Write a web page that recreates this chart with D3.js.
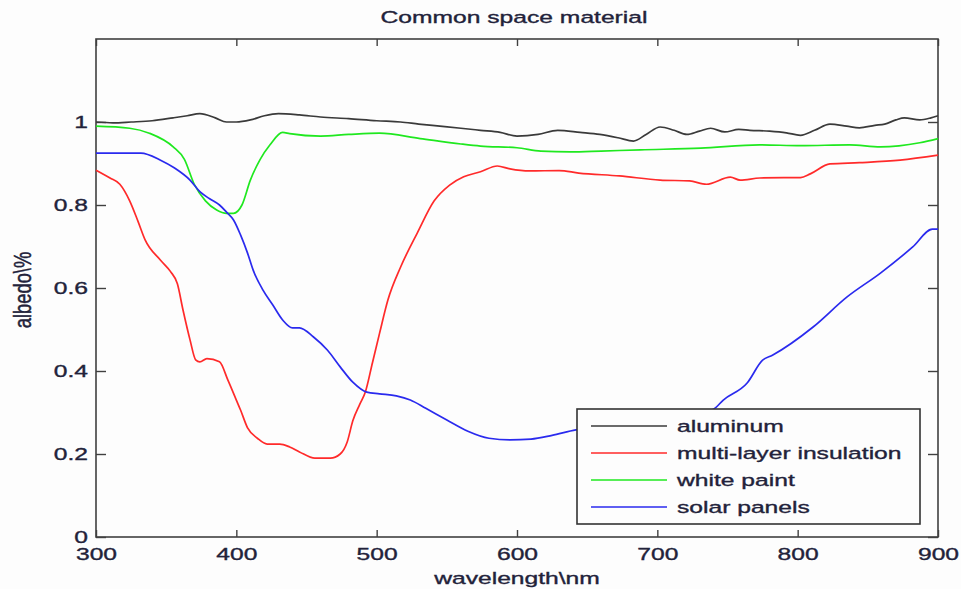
<!DOCTYPE html>
<html>
<head>
<meta charset="utf-8">
<script src="https://cdn.jsdelivr.net/npm/d3@7"></script>
<style>
  body { margin: 0; background: #fdfdfd; }
  text { font-family: "Liberation Sans", Arial, sans-serif; fill: #22223a; stroke: #22223a; stroke-width: 0.35px; }
</style>
</head>
<body>
<svg id="chart" width="961" height="589"></svg>
<script>
// readings from the picture: [wavelength nm, albedo]
var aluminum = [
  [300, 1.0], [312, 0.998], [325, 1.0], [340, 1.003], [355, 1.01], [365, 1.015], [374, 1.02],
  [385, 1.01], [393, 1.0], [400, 1.0], [410, 1.005], [420, 1.015], [430, 1.02], [445, 1.017],
  [460, 1.012], [480, 1.008], [500, 1.003], [517, 1.0], [530, 0.995], [545, 0.99], [560, 0.985],
  [574, 0.98], [588, 0.975], [600, 0.966], [615, 0.97], [629, 0.98], [645, 0.975], [659, 0.97],
  [672, 0.962], [683, 0.954], [692, 0.97], [702, 0.988], [712, 0.98], [721, 0.97], [730, 0.978],
  [738, 0.985], [748, 0.976], [758, 0.982], [766, 0.98], [780, 0.978], [792, 0.974], [802, 0.968],
  [812, 0.98], [823, 0.995], [835, 0.99], [844, 0.986], [855, 0.992], [862, 0.995], [870, 1.005],
  [876, 1.01], [887, 1.005], [895, 1.01], [900, 1.015]
];

var multiLayer = [
  [300, 0.884], [310, 0.865], [317, 0.85], [324, 0.81], [330, 0.76], [335, 0.716], [346, 0.667],
  [353, 0.64], [358, 0.61], [362, 0.547], [367, 0.475], [371, 0.427], [374, 0.422], [379, 0.43],
  [388, 0.422], [394, 0.378], [400, 0.33], [403, 0.306], [408, 0.263], [415, 0.238], [422, 0.224],
  [431, 0.224], [438, 0.217], [445, 0.205], [456, 0.19], [467, 0.19], [474, 0.2], [479, 0.229],
  [483, 0.28], [488, 0.32], [492, 0.35], [497, 0.42], [502, 0.49], [508, 0.571], [517, 0.65],
  [529, 0.733], [541, 0.81], [552, 0.848], [562, 0.868], [574, 0.88], [586, 0.894], [595, 0.887],
  [609, 0.882], [630, 0.883], [644, 0.877], [673, 0.87], [702, 0.86], [723, 0.858], [735, 0.85],
  [752, 0.867], [759, 0.86], [773, 0.865], [790, 0.866], [802, 0.866], [809, 0.875], [823, 0.899],
  [844, 0.902], [873, 0.908], [900, 0.92]
];

var whitePaint = [
  [300, 0.99], [324, 0.985], [338, 0.973], [355, 0.94], [363, 0.91], [370, 0.85], [378, 0.81],
  [386, 0.788], [393, 0.78], [398, 0.78], [404, 0.80], [410, 0.86], [417, 0.91], [424, 0.945],
  [433, 0.975], [438, 0.972], [460, 0.966], [480, 0.97], [502, 0.973], [531, 0.96], [560, 0.947],
  [574, 0.942], [600, 0.938], [617, 0.93], [638, 0.928], [660, 0.93], [688, 0.933], [731, 0.937],
  [773, 0.945], [802, 0.943], [837, 0.945], [859, 0.94], [887, 0.95], [900, 0.96]
];

var solarPanels = [
  [300, 0.925], [332, 0.925], [346, 0.908], [356, 0.889], [367, 0.86], [374, 0.832], [381, 0.815],
  [388, 0.80], [393, 0.783], [398, 0.764], [403, 0.728], [408, 0.684], [412, 0.643], [419, 0.595],
  [426, 0.559], [433, 0.523], [440, 0.504], [445, 0.504], [455, 0.482], [465, 0.45], [474, 0.41],
  [483, 0.373], [493, 0.349], [502, 0.345], [514, 0.34], [524, 0.33], [535, 0.31], [550, 0.282],
  [565, 0.255], [580, 0.238], [595, 0.234], [610, 0.236], [625, 0.245], [642, 0.258], [660, 0.265],
  [680, 0.272], [700, 0.28], [720, 0.292], [740, 0.308], [747, 0.33], [764, 0.371], [775, 0.426],
  [782, 0.438], [811, 0.506], [835, 0.578], [859, 0.636], [882, 0.699], [896, 0.742], [900, 0.742]
];

var seriesNames = ["aluminum", "multi-layer insulation", "white paint", "solar panels"];
var seriesData = [aluminum, multiLayer, whitePaint, solarPanels];
var seriesColors = ["#3a3a3a", "#ff2a2a", "#1fe81f", "#2a2aee"];

var xTicks = [300, 400, 500, 600, 700, 800, 900];
var yTicks = [0, 0.2, 0.4, 0.6, 0.8, 1];

var STRETCH = 1.45; // the picture's text is wide

var svg = d3.select('#chart');
var x = d3.scaleLinear().domain([300, 900]).range([96, 938]);
var y = d3.scaleLinear().domain([0, 1.2]).range([537, 39]);

// widen a text element without moving its anchor
function widen(sel) {
  sel.each(function () {
    var t = d3.select(this);
    var tx = +t.attr('x') || 0;
    t.attr('x', tx / STRETCH).attr('transform', 'scale(' + STRETCH + ',1)');
  });
}

// axes, ticks point inward on all four sides
var gx = svg.append('g').attr('transform', 'translate(0,' + y(0) + ')')
  .call(d3.axisBottom(x).tickValues(xTicks).tickSize(-7).tickPadding(11).tickFormat(d3.format('d')));
var gy = svg.append('g').attr('transform', 'translate(' + x(300) + ',0)')
  .call(d3.axisLeft(y).tickValues(yTicks).tickSize(-10).tickPadding(8).tickFormat(d3.format('~g')));
svg.append('g').attr('transform', 'translate(0,' + y(1.2) + ')')
  .call(d3.axisTop(x).tickValues(xTicks).tickSize(-7).tickFormat(''));
svg.append('g').attr('transform', 'translate(' + x(900) + ',0)')
  .call(d3.axisRight(y).tickValues(yTicks).tickSize(-10).tickFormat(''));

svg.selectAll('.domain').remove();
svg.selectAll('.tick line').attr('stroke', '#404040').attr('stroke-width', 1.4);
svg.selectAll('.tick text').attr('font-size', 17).attr('font-family', null).attr('fill', null);
widen(gx.selectAll('.tick text'));
widen(gy.selectAll('.tick text'));

svg.append('rect')
  .attr('x', x(300)).attr('y', y(1.2))
  .attr('width', x(900) - x(300)).attr('height', y(0) - y(1.2))
  .attr('fill', 'none').attr('stroke', '#404040').attr('stroke-width', 1.6);

// curves
var line = d3.line()
  .x(function (d) { return x(d[0]); })
  .y(function (d) { return y(d[1]); })
  .curve(d3.curveMonotoneX);

svg.append('g').selectAll('path')
  .data(seriesData)
  .join('path')
  .attr('d', line)
  .attr('fill', 'none')
  .attr('stroke', function (d, i) { return seriesColors[i]; })
  .attr('stroke-width', 1.7);

// titles
svg.append('g').attr('transform', 'translate(514,23)')
  .append('text').attr('text-anchor', 'middle').attr('font-size', 17)
  .attr('transform', 'scale(' + STRETCH + ',1)')
  .text('Common space material');

svg.append('g').attr('transform', 'translate(517,584)')
  .append('text').attr('text-anchor', 'middle').attr('font-size', 17)
  .attr('transform', 'scale(' + STRETCH + ',1)')
  .text('wavelength\\nm');

svg.append('g').attr('transform', 'translate(31,290) rotate(-90)')
  .append('text').attr('text-anchor', 'middle').attr('font-size', 17)
  .attr('transform', 'scale(1.08,' + STRETCH + ')')
  .text('albedo\\%');

// legend
var legend = svg.append('g');
legend.append('rect')
  .attr('x', 577).attr('y', 409).attr('width', 343).attr('height', 115)
  .attr('fill', '#fdfdfd').attr('stroke', '#333').attr('stroke-width', 1.6);

var rows = legend.selectAll('g.row')
  .data(seriesNames)
  .join('g')
  .attr('class', 'row')
  .attr('transform', function (d, i) { return 'translate(591,' + (426 + i * 27) + ')'; });

rows.append('line')
  .attr('x1', 0).attr('x2', 76).attr('y1', 0).attr('y2', 0)
  .attr('stroke', function (d, i) { return seriesColors[i]; })
  .attr('stroke-width', 1.6);

rows.append('g').attr('transform', 'translate(86,6)')
  .append('text').attr('font-size', 17)
  .attr('transform', 'scale(' + STRETCH + ',1)')
  .text(function (d) { return d; });
</script>
</body>
</html>
